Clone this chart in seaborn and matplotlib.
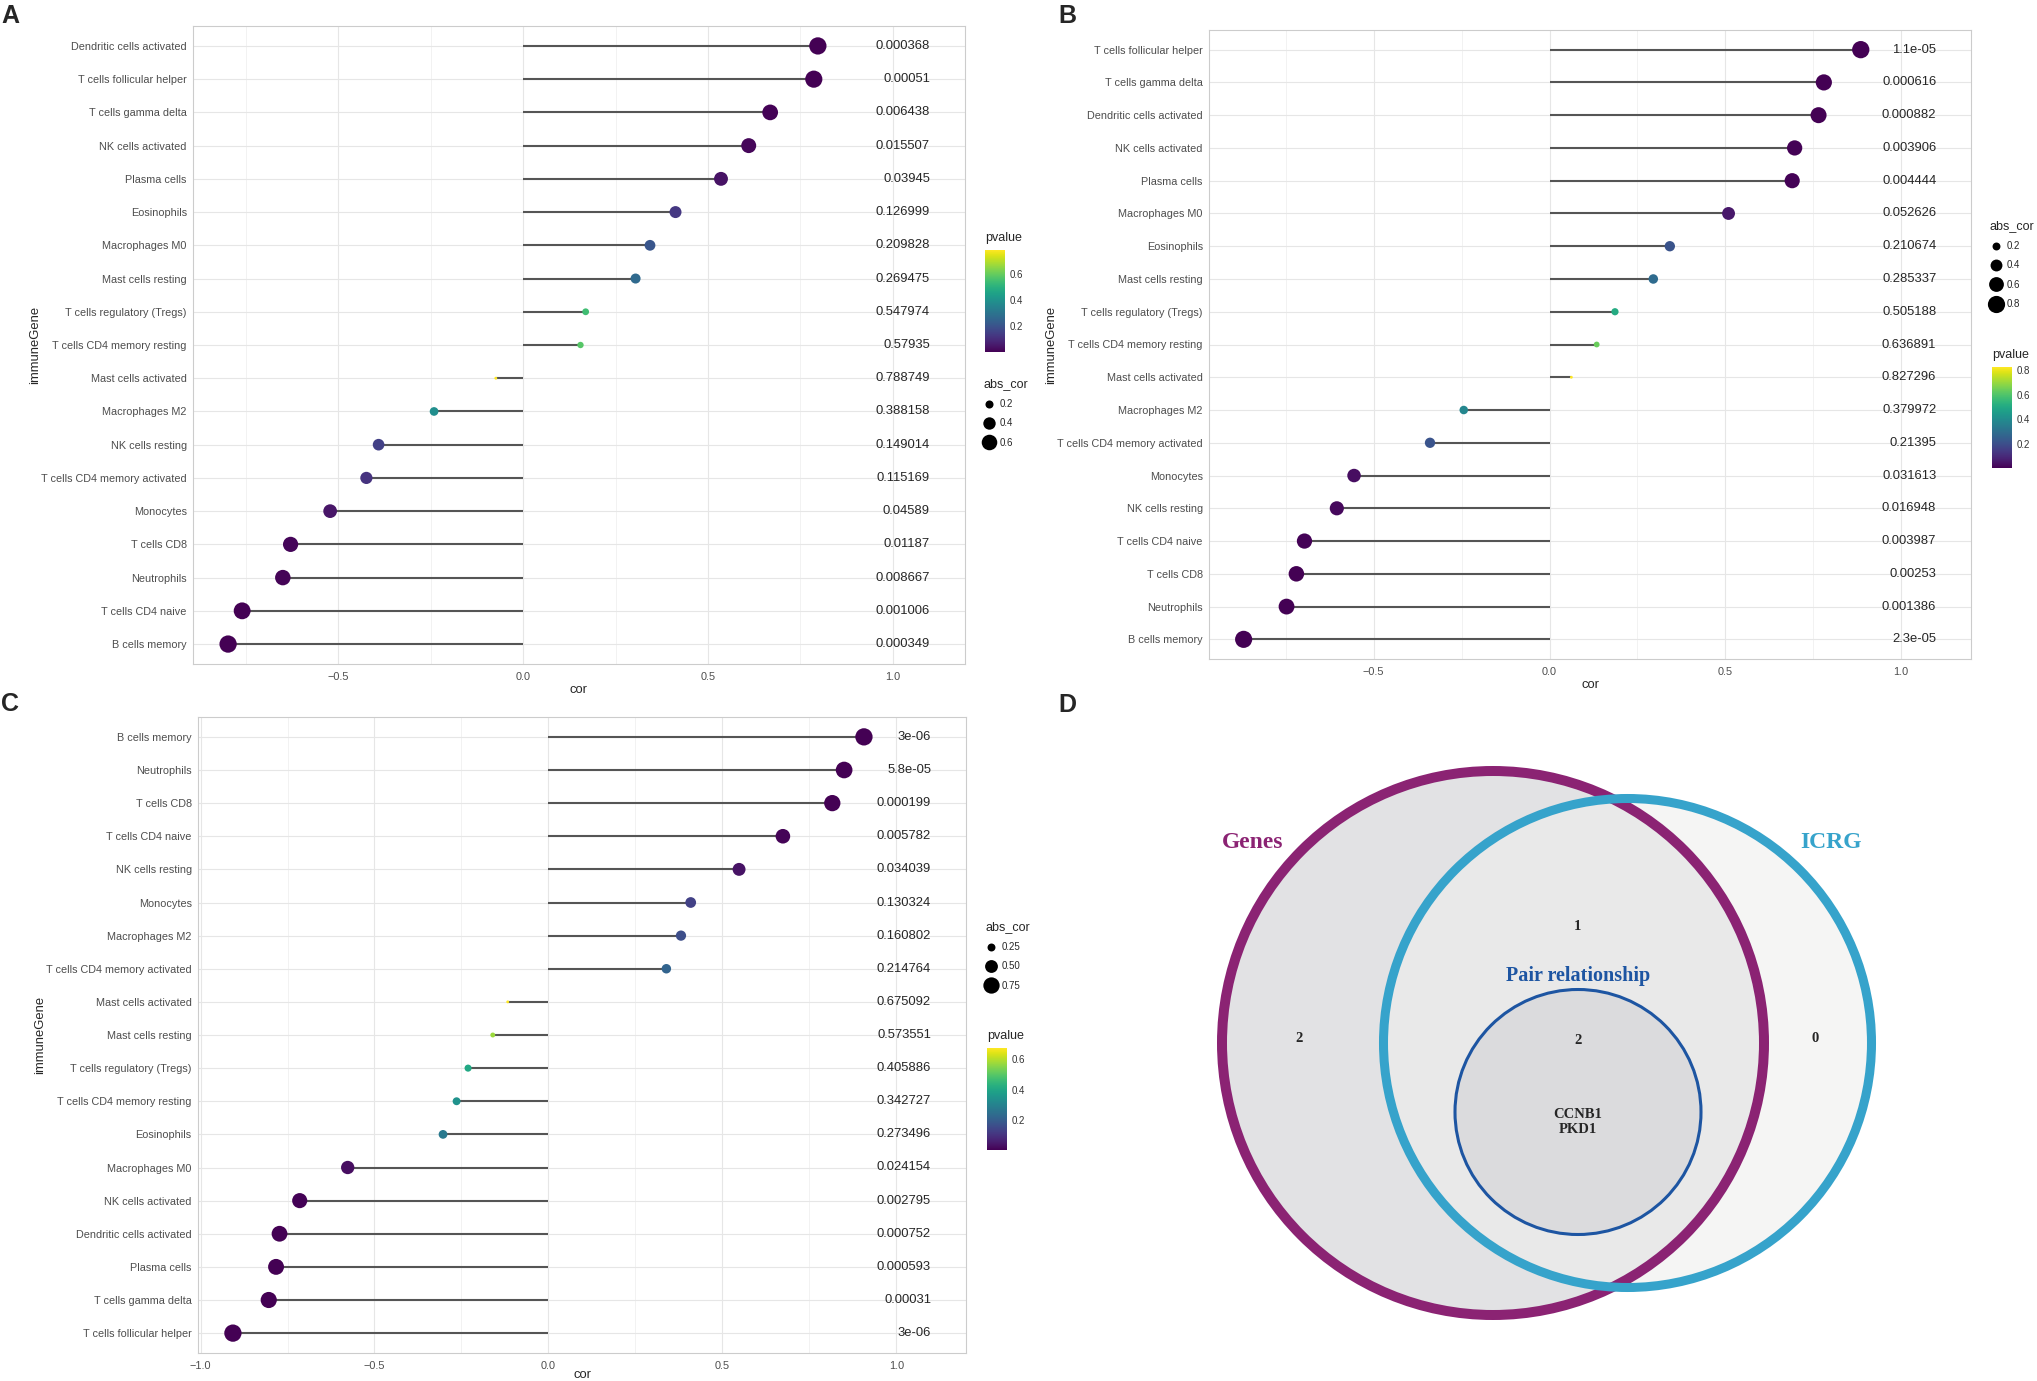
import numpy as np
import pandas as pd
import matplotlib
matplotlib.use("Agg")
import matplotlib.pyplot as plt
import seaborn as sns
from matplotlib.lines import Line2D
from matplotlib.patches import Ellipse
from matplotlib.ticker import MultipleLocator
from matplotlib.colors import Normalize
from matplotlib.cm import ScalarMappable

sns.set_style("white")
plt.rcParams["font.family"] = ["Liberation Sans", "DejaVu Sans"]

# ---- panel A ----
genes_a = ["Dendritic cells activated", "T cells follicular helper", "T cells gamma delta",
           "NK cells activated", "Plasma cells", "Eosinophils", "Macrophages M0",
           "Mast cells resting", "T cells regulatory (Tregs)", "T cells CD4 memory resting",
           "Mast cells activated", "Macrophages M2", "NK cells resting",
           "T cells CD4 memory activated", "Monocytes", "T cells CD8", "Neutrophils",
           "T cells CD4 naive", "B cells memory"]
cor_a = [0.797, 0.786, 0.668, 0.610, 0.535, 0.412, 0.343, 0.304, 0.169, 0.155,
         -0.074, -0.241, -0.391, -0.424, -0.522, -0.629, -0.650, -0.760, -0.798]
pval_a = ["0.000368", "0.00051", "0.006438", "0.015507", "0.03945", "0.126999",
          "0.209828", "0.269475", "0.547974", "0.57935", "0.788749", "0.388158",
          "0.149014", "0.115169", "0.04589", "0.01187", "0.008667", "0.001006", "0.000349"]

# ---- panel B ----
genes_b = ["T cells follicular helper", "T cells gamma delta", "Dendritic cells activated",
           "NK cells activated", "Plasma cells", "Macrophages M0", "Eosinophils",
           "Mast cells resting", "T cells regulatory (Tregs)", "T cells CD4 memory resting",
           "Mast cells activated", "Macrophages M2", "T cells CD4 memory activated",
           "Monocytes", "NK cells resting", "T cells CD4 naive", "T cells CD8",
           "Neutrophils", "B cells memory"]
cor_b = [0.885, 0.780, 0.765, 0.697, 0.690, 0.509, 0.342, 0.295, 0.186, 0.134,
         0.062, -0.244, -0.340, -0.556, -0.605, -0.697, -0.720, -0.748, -0.870]
pval_b = ["1.1e-05", "0.000616", "0.000882", "0.003906", "0.004444", "0.052626",
          "0.210674", "0.285337", "0.505188", "0.636891", "0.827296", "0.379972",
          "0.21395", "0.031613", "0.016948", "0.003987", "0.00253", "0.001386", "2.3e-05"]

# ---- panel C ----
genes_c = ["B cells memory", "Neutrophils", "T cells CD8", "T cells CD4 naive",
           "NK cells resting", "Monocytes", "Macrophages M2", "T cells CD4 memory activated",
           "Mast cells activated", "Mast cells resting", "T cells regulatory (Tregs)",
           "T cells CD4 memory resting", "Eosinophils", "Macrophages M0",
           "NK cells activated", "Dendritic cells activated", "Plasma cells",
           "T cells gamma delta", "T cells follicular helper"]
cor_c = [0.907, 0.850, 0.816, 0.674, 0.548, 0.409, 0.381, 0.339, -0.117, -0.160,
         -0.231, -0.264, -0.303, -0.577, -0.715, -0.773, -0.783, -0.804, -0.907]
pval_c = ["3e-06", "5.8e-05", "0.000199", "0.005782", "0.034039", "0.130324",
          "0.160802", "0.214764", "0.675092", "0.573551", "0.405886", "0.342727",
          "0.273496", "0.024154", "0.002795", "0.000752", "0.000593", "0.00031", "3e-06"]

# ---- panel D (venn) ----
venn_sets = ["Genes", "ICRG", "Pair relationship"]
venn_counts = {"genes_only": 2, "icrg_not_pair": 1, "pair": 2, "icrg_only": 0}
pair_genes = ["CCNB1", "PKD1"]

W, H = 2037, 1381
SIZES = (4.3, 155)
fig = plt.figure(figsize=(W / 100, H / 100), dpi=100)


def px_axes(l, t, r, b):
    return fig.add_axes([l / W, 1 - b / H, (r - l) / W, (b - t) / H])


def lollipop(ax, genes, cor, pvals, cb_box, cb_ticks, leg_xy, size_breaks, size_labels,
             xlab_pad=2):
    n = len(genes)
    ypos = np.arange(n)
    df = pd.DataFrame({"immuneGene": genes, "cor": cor,
                       "pvalue": [float(v) for v in pvals],
                       "abs_cor": np.abs(cor), "ypos": ypos})
    ax.hlines(df["ypos"], 0, df["cor"], color="#555555", lw=1.5, zorder=2)
    sns.scatterplot(data=df, x="cor", y="ypos", hue="pvalue", size="abs_cor",
                    palette="viridis", sizes=SIZES, linewidth=0, legend=False,
                    ax=ax, zorder=3)
    for y, txt in zip(ypos, pvals):
        ax.text(1.1, y, txt, ha="right", va="center", fontsize=9.4)
    lo = df["cor"].min()
    span = 1.1 - lo
    ax.set_xlim(lo - 0.05 * span, 1.1 + 0.05 * span)
    ax.set_ylim(n - 1 + 0.6, -0.6)
    ax.set_yticks(ypos, genes)
    ax.xaxis.set_major_locator(MultipleLocator(0.5))
    ax.xaxis.set_minor_locator(MultipleLocator(0.25))
    ax.grid(which="major", color="#E6E6E6", lw=0.8)
    ax.grid(which="minor", axis="x", color="#F0F0F0", lw=0.6)
    ax.set_axisbelow(True)
    ax.tick_params(which="major", length=2.5, width=0.6, color="#BBBBBB",
                   labelsize=7.8, labelcolor="#4D4D4D", pad=2)
    ax.tick_params(which="minor", length=0)
    ax.tick_params(axis="x", pad=3)
    for s in ax.spines.values():
        s.set_color("#CCCCCC")
        s.set_linewidth(0.8)
    ax.set_xlabel("cor", fontsize=9.4, labelpad=xlab_pad)
    ax.set_ylabel("immuneGene", fontsize=9.4, labelpad=0)

    # colour bar legend
    l, t, r, b = cb_box
    cax = px_axes(l, t, r, b)
    sm = ScalarMappable(norm=Normalize(df["pvalue"].min(), df["pvalue"].max()), cmap="viridis")
    cb = fig.colorbar(sm, cax=cax, ticks=cb_ticks)
    cb.outline.set_visible(False)
    cax.tick_params(direction="in", color="white", length=4, width=0.8,
                    labelsize=7, labelcolor="#333333", left=True, right=True, pad=3)
    fig.text(l / W, 1 - (t - 12) / H, "pvalue", fontsize=9, ha="left", va="center")

    # size legend (same linear area mapping as seaborn)
    vmin, vmax = df["abs_cor"].min(), df["abs_cor"].max()
    handles = []
    for v in size_breaks:
        s = SIZES[0] + (v - vmin) / (vmax - vmin) * (SIZES[1] - SIZES[0])
        handles.append(Line2D([], [], ls="", marker="o", color="black",
                              markeredgewidth=0, markersize=np.sqrt(s) * 1.05))
    x, y = leg_xy
    fig.legend(handles, size_labels, title="abs_cor", loc="upper left",
               bbox_to_anchor=(x / W, 1 - y / H), frameon=False, fontsize=7,
               title_fontsize=9, alignment="left", borderpad=0, borderaxespad=0,
               handletextpad=0.5, labelspacing=0.95, handlelength=1.2)


ax_a = px_axes(193, 26, 965, 664)
lollipop(ax_a, genes_a, cor_a, pval_a, (985, 250, 1005, 352), [0.2, 0.4, 0.6],
         (983, 378), [0.2, 0.4, 0.6], ["0.2", "0.4", "0.6"])

ax_b = px_axes(1209, 30, 1971, 659)
lollipop(ax_b, genes_b, cor_b, pval_b, (1992, 367, 2012, 468), [0.2, 0.4, 0.6, 0.8],
         (1990, 220), [0.2, 0.4, 0.6, 0.8], ["0.2", "0.4", "0.6", "0.8"])

ax_c = px_axes(198, 717, 966, 1353)
lollipop(ax_c, genes_c, cor_c, pval_c, (987, 1048, 1007, 1150), [0.2, 0.4, 0.6],
         (985, 921), [0.25, 0.5, 0.75], ["0.25", "0.50", "0.75"], xlab_pad=-1)

# ---- Venn diagram ----
ax_d = px_axes(1040, 700, 2037, 1381)
ax_d.set_xlim(1040, 2037)
ax_d.set_ylim(1381, 700)
ax_d.axis("off")
purple, cyan, blue = "#8B2373", "#36A3CB", "#1D55A2"
circles = [((1493, 1043), 542, 544, purple, 7.2, "#E2E2E4", 1.0),
           ((1627.5, 1043), 488, 489, cyan, 6.5, "#EFEFED", 0.6),
           ((1578, 1112), 246, 245, blue, 2.2, "#DBDBDD", 1.0)]
for (c, w, h, ec, lw, fc, al) in circles:
    ax_d.add_patch(Ellipse(c, w, h, facecolor=fc, edgecolor="none", alpha=al, zorder=1))
for (c, w, h, ec, lw, fc, al) in circles:
    ax_d.add_patch(Ellipse(c, w, h, facecolor="none", edgecolor=ec, lw=lw, zorder=2))

serif = ["Liberation Serif", "DejaVu Serif"]
ax_d.text(1253, 842, venn_sets[0], color=purple, fontsize=17, fontweight="bold",
          family=serif, ha="center", va="center")
ax_d.text(1831, 842, venn_sets[1], color=cyan, fontsize=17, fontweight="bold",
          family=serif, ha="center", va="center")
ax_d.text(1578, 976, venn_sets[2], color=blue, fontsize=14.5, fontweight="bold",
          family=serif, ha="center", va="center")
for (x, y), key in zip([(1299, 1039), (1577, 926), (1578, 1040), (1815, 1039)],
                       ["genes_only", "icrg_not_pair", "pair", "icrg_only"]):
    ax_d.text(x, y, str(venn_counts[key]), fontsize=10.5, fontweight="bold",
              family=serif, ha="center", va="center")
ax_d.text(1578, 1122, "\n".join(pair_genes), fontsize=10.5, fontweight="bold",
          family=serif, ha="center", va="center", linespacing=1.25)

# panel letters
for lab, x, y in [("A", 1, 16), ("B", 1058, 16), ("C", 1, 704), ("D", 1058, 705)]:
    fig.text(x / W, 1 - y / H, lab, fontsize=18, fontweight="bold", ha="left", va="center")

fig.savefig("out.png", dpi=100)
